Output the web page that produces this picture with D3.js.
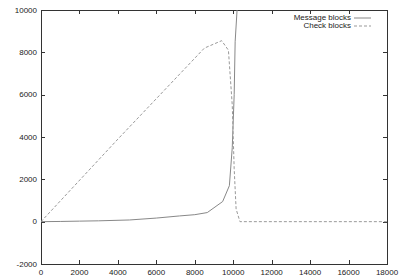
<!DOCTYPE html>
<html>
<head>
<meta charset="utf-8">
<script src="https://cdn.jsdelivr.net/npm/d3@7"></script>
<style>
  body { margin: 0; background: #fff; }
  text { font-family: "Liberation Sans", Arial, sans-serif; font-size: 8px; fill: #222; }
</style>
</head>
<body>
<svg id="chart" width="400" height="280"></svg>
<script>
// Data
const messageX = [0, 1000, 2000, 3000, 4600, 6000, 7200, 8000, 8650, 9450, 9800, 9950, 10050, 10100, 10200, 10300];
const messageY = [0, 10, 25, 40, 80, 170, 270, 330, 430, 950, 1700, 3500, 6000, 8500, 10000, 12000];
const checkX = [0, 4000, 8500, 9400, 9750, 9950, 10050, 10150, 10350, 18000];
const checkY = [0, 3900, 8200, 8550, 8100, 5500, 2500, 600, 0, 0];
const xTicks = [0, 2000, 4000, 6000, 8000, 10000, 12000, 14000, 16000, 18000];
const yTicks = [-2000, 0, 2000, 4000, 6000, 8000, 10000];

const margin = { left: 41, top: 10, right: 13, bottom: 16 };
const width = 400, height = 280;

const svg = d3.select("#chart");

const x = d3.scaleLinear().domain([0, 18000]).range([margin.left, width - margin.right]);
const y = d3.scaleLinear().domain([-2000, 10000]).range([height - margin.bottom, margin.top]);

svg.append("clipPath").attr("id", "clip")
  .append("rect")
  .attr("x", x(0)).attr("y", y(10000))
  .attr("width", x(18000) - x(0)).attr("height", y(-2000) - y(10000));

// tick marks (inward, mirrored like gnuplot)
const tl = 4;
const ticks = svg.append("g").attr("stroke", "#333").attr("stroke-width", 1);
xTicks.forEach(t => {
  const px = Math.round(x(t)) + 0.5;
  ticks.append("line").attr("x1", px).attr("x2", px).attr("y1", y(-2000)).attr("y2", y(-2000) - tl);
  ticks.append("line").attr("x1", px).attr("x2", px).attr("y1", y(10000)).attr("y2", y(10000) + tl);
});
yTicks.forEach(t => {
  const py = Math.round(y(t)) + 0.5;
  ticks.append("line").attr("x1", x(0)).attr("x2", x(0) + tl).attr("y1", py).attr("y2", py);
  ticks.append("line").attr("x1", x(18000)).attr("x2", x(18000) - tl).attr("y1", py).attr("y2", py);
});

// tick labels
svg.append("g").selectAll("text").data(xTicks).join("text")
  .attr("x", d => x(d)).attr("y", height - margin.bottom + 11)
  .attr("text-anchor", "middle").text(d => d);
svg.append("g").selectAll("text").data(yTicks).join("text")
  .attr("x", margin.left - 4).attr("y", d => y(d)).attr("dy", "0.35em")
  .attr("text-anchor", "end").text(d => d);

// border
svg.append("rect")
  .attr("x", Math.round(x(0)) + 0.5).attr("y", Math.round(y(10000)) + 0.5)
  .attr("width", Math.round(x(18000) - x(0))).attr("height", Math.round(y(-2000) - y(10000)))
  .attr("fill", "none").attr("stroke", "#333");

const line = d3.line().x(d => x(d[0])).y(d => y(d[1]));
const plot = svg.append("g").attr("clip-path", "url(#clip)").attr("fill", "none");

plot.append("path")
  .datum(messageX.map((v, i) => [v, messageY[i]]))
  .attr("d", line).attr("stroke", "#888").attr("stroke-width", 1);
plot.append("path")
  .datum(checkX.map((v, i) => [v, checkY[i]]))
  .attr("d", line).attr("stroke", "#999").attr("stroke-width", 1)
  .attr("stroke-dasharray", "3,2");

// legend
const legend = svg.append("g");
const series = [
  { name: "Message blocks", dash: null, color: "#888" },
  { name: "Check blocks", dash: "3,2", color: "#999" }
];
series.forEach((s, i) => {
  const ly = 17.5 + i * 8;
  legend.append("text").attr("x", 351).attr("y", ly).attr("dy", "0.35em")
    .attr("text-anchor", "end").text(s.name);
  legend.append("line").attr("x1", 354).attr("x2", 371).attr("y1", ly + 0.5).attr("y2", ly + 0.5)
    .attr("stroke", s.color).attr("stroke-dasharray", s.dash);
});
</script>
</body>
</html>
